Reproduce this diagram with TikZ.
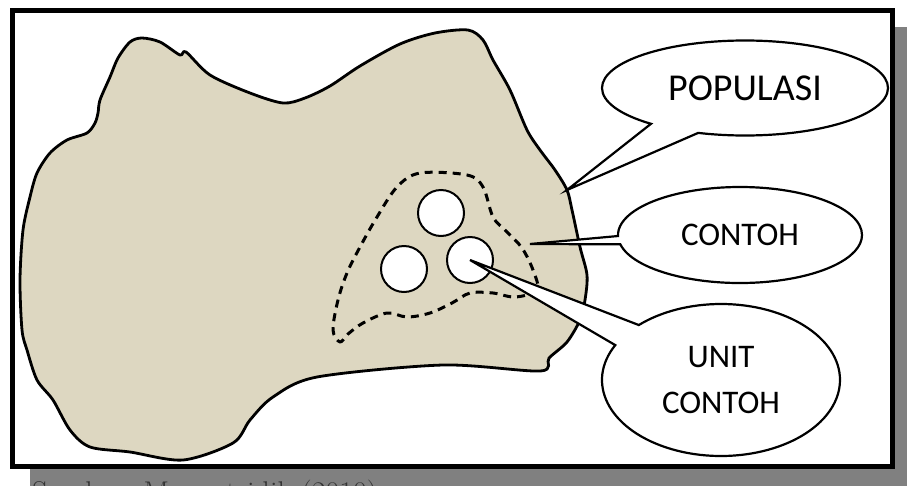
\documentclass[tikz,border=0pt]{standalone}
\usepackage{fontspec}
\newfontfamily\calloutfont{Carlito}
\usetikzlibrary{shapes.callouts,calc}
\definecolor{popSand}{RGB}{221,215,193}
\definecolor{popShadow}{RGB}{128,128,128}
\tikzset{
	popShade/.style={fill=popShadow, draw=none},
	popFrame/.style={draw=black, line width=5pt, fill=white},
	popBlob/.style={draw=black, line width=2.8pt, fill=popSand, line join=round},
	popSample/.style={draw=black, line width=3pt, dash pattern=on 8pt off 6pt, line join=round},
	popUnit/.style={circle, draw=black, line width=2pt, fill=white, minimum size=46pt, inner sep=0pt},
	popCallout/.style={
		ellipse callout,
		draw=black,
		line width=2.2pt,
		fill=white,
		align=center,
		inner sep=0pt
	},
	popSource/.style={anchor=base west, inner sep=0pt, text=black!80, font=\fontsize{30}{32}\selectfont}
}

\begin{document}
\begin{tikzpicture}[x=1pt, y=-1pt]

			\useasboundingbox (0,0) rectangle (907,485);

			% Shadow and frame
			\fill[popShade] (30,27) rectangle (907,490);
			\draw[popFrame] (12.5,10.5) rectangle (892,466);

			% Population
			\draw[popBlob] plot[smooth cycle, tension=0.5] coordinates {
				(142,38) (160,42) (180,55) (186,52) (210,75) (250,93) (283,103) (305,98)
				(330,86) (360,66) (400,44) (435,33) (468,30) (483,40) (493,60) (510,90)
				(527,130) (540,150) (555,170) (567,190) (572,210) (580,247) (587,275)
				(585,300) (580,320) (567,342) (549,358) (540,371) (443,365) (317,377)
				(273,397) (250,420) (233,443) (183,460) (130,452) (90,447) (70,430)
				(53,400) (37,380) (27,350) (22,330) (20,280) (23,230) (30,197) (37,173)
				(50,153) (67,140) (87,133) (95,123) (98,113) (100,100) (110,77) (118,58)
				(130,42)};

			% Sample
			\draw[popSample] plot[smooth cycle, tension=0.55] coordinates {
				(420,173) (467,175) (483,187) (493,217) (507,232) (522,248) (533,270)
				(537,290) (515,297) (493,293) (470,293) (452,303) (430,313) (407,317)
				(387,313) (363,323) (348,334) (340,342) (333,330) (338,300) (347,273)
				(360,247) (377,217) (397,187)};

			% Sample units
			\node[popUnit] (unitA) at (441,213) {};
			\node[popUnit] (unitB) at (404,269) {};
			\node[popUnit] (unitC) at (470,260) {};

			% Pointer ends
			\coordinate (popEdge) at (567,190);
			\coordinate (sampleEdge) at (530,244);

			% Callouts
			\node[popCallout, minimum width=286pt, minimum height=95pt,
				font={\calloutfont\fontsize{38}{40}\selectfont},
				callout absolute pointer={(popEdge)}, callout pointer arc=22] (populasi) at (745,88)
			{POPULASI};
			\node[popCallout, minimum width=244pt, minimum height=96pt,
				font={\calloutfont\fontsize{33}{35}\selectfont},
				callout absolute pointer={(sampleEdge)}, callout pointer arc=10] (contoh) at (740,235)
			{CONTOH};
			\node[popCallout, minimum width=238pt, minimum height=152pt,
				font={\calloutfont\fontsize{33}{46}\selectfont},
				callout absolute pointer={(unitC.center)}, callout pointer arc=19] (unit) at (721,380)
			{UNIT\\CONTOH};

			% Source
			\node[popSource] (source) at (32,502) {Sumber: Mangatsidik (2010)};

		\end{tikzpicture}
\end{document}
